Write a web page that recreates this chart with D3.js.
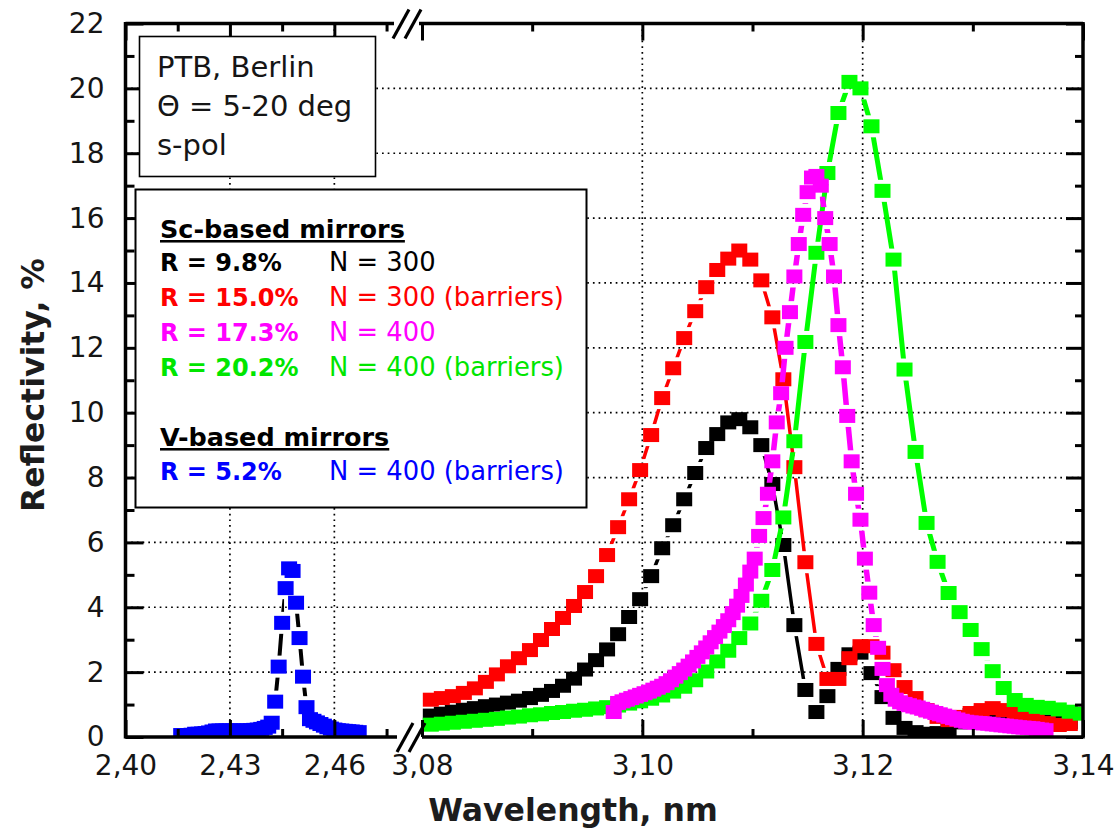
<!DOCTYPE html>
<html>
<head>
<meta charset="utf-8">
<script src="https://cdn.jsdelivr.net/npm/d3@7"></script>
<style>
  html, body { margin: 0; padding: 0; background: #ffffff; }
  svg { display: block; }
  text { font-family: "DejaVu Sans", "Open Sans", sans-serif; }
</style>
</head>
<body>
<svg id="chart" width="1120" height="829"></svg>
<script>
// ---------------------------------------------------------------
// Reflectivity spectra of multilayer mirrors (wavelength nm, R %)
// ---------------------------------------------------------------

// Sc-based, N = 300
const scN300 = [
  [3.0808,0.66],[3.0818,0.72],[3.0828,0.78],[3.0838,0.84],[3.0848,0.89],[3.0858,0.95],
  [3.0868,1.00],[3.0878,1.06],[3.0888,1.12],[3.0898,1.20],[3.0908,1.30],[3.0918,1.42],
  [3.0928,1.58],[3.0938,1.80],[3.0948,2.08],[3.0958,2.37],[3.0968,2.70],[3.0978,3.17],
  [3.0988,3.70],[3.0998,4.25],[3.1008,4.96],[3.1018,5.82],[3.1028,6.53],[3.1038,7.33],
  [3.1048,8.14],[3.1058,8.91],[3.1068,9.34],[3.1078,9.70],[3.1088,9.80],[3.1098,9.55],
  [3.1108,9.00],[3.1118,7.80],[3.1128,5.92],[3.1138,3.45],[3.1148,1.45],[3.1158,0.77],
  [3.1168,1.26],[3.1178,2.10],[3.1188,2.55],[3.1198,2.60],[3.1208,1.97],[3.1218,1.23],
  [3.1228,0.59],[3.1238,0.28],[3.1248,0.15],[3.1258,0.10],[3.1268,0.12],[3.1278,0.20],
  [3.1288,0.45],[3.1298,0.68],[3.1308,0.75],[3.1318,0.72],[3.1328,0.62],[3.1338,0.55],
  [3.1348,0.45],[3.1358,0.42],[3.1368,0.48],[3.1378,0.52],[3.1388,0.45]
];

// Sc-based, N = 300 with barrier layers
const scN300Barriers = [
  [3.0808,1.15],[3.0818,1.20],[3.0828,1.26],[3.0838,1.36],[3.0848,1.50],[3.0858,1.70],
  [3.0868,1.93],[3.0878,2.18],[3.0888,2.43],[3.0898,2.68],[3.0908,2.99],[3.0918,3.33],
  [3.0928,3.67],[3.0938,4.04],[3.0948,4.47],[3.0958,4.96],[3.0968,5.61],[3.0978,6.47],
  [3.0988,7.33],[3.0998,8.23],[3.1008,9.31],[3.1018,10.45],[3.1028,11.37],[3.1038,12.30],
  [3.1048,13.13],[3.1058,13.87],[3.1068,14.40],[3.1078,14.75],[3.1088,15.00],[3.1098,14.72],
  [3.1108,14.08],[3.1118,12.94],[3.1128,11.03],[3.1138,8.32],[3.1148,5.39],[3.1158,2.87],
  [3.1168,1.79],[3.1178,1.79],[3.1188,2.43],[3.1198,2.80],[3.1208,2.80],[3.1218,2.60],
  [3.1228,2.06],[3.1238,1.54],[3.1248,1.20],[3.1258,0.83],[3.1268,0.62],[3.1278,0.52],
  [3.1288,0.62],[3.1298,0.74],[3.1308,0.83],[3.1318,0.89],[3.1328,0.83],[3.1338,0.71],
  [3.1348,0.62],[3.1358,0.52],[3.1368,0.43],[3.1378,0.37],[3.1388,0.40]
];

// Sc-based, N = 400
const scN400 = [
  [3.0974,0.77],[3.0978,1.05],[3.0982,1.10],[3.0986,1.15],[3.0990,1.20],[3.0994,1.25],
  [3.0998,1.30],[3.1002,1.35],[3.1006,1.40],[3.1010,1.46],[3.1014,1.52],[3.1018,1.58],
  [3.1022,1.66],[3.1026,1.75],[3.1030,1.86],[3.1034,1.97],[3.1038,2.08],[3.1042,2.20],
  [3.1046,2.33],[3.1050,2.47],[3.1054,2.61],[3.1058,2.76],[3.1062,2.92],[3.1066,3.08],
  [3.1070,3.25],[3.1074,3.42],[3.1078,3.60],[3.1082,3.82],[3.1086,4.05],[3.1090,4.35],
  [3.1094,4.70],[3.1098,5.10],[3.1102,5.50],[3.1106,6.20],[3.1110,6.75],[3.1114,7.50],
  [3.1118,8.50],[3.1122,9.70],[3.1126,10.60],[3.1130,12.00],[3.1134,13.10],[3.1138,14.20],
  [3.1142,15.20],[3.1146,16.10],[3.1150,16.80],[3.1154,17.25],[3.1158,17.30],[3.1162,17.00],
  [3.1166,16.00],[3.1170,15.20],[3.1174,14.20],[3.1178,12.70],[3.1182,11.40],[3.1186,9.90],
  [3.1190,8.50],[3.1194,7.50],[3.1198,6.70],[3.1202,5.50],[3.1206,4.45],[3.1210,3.45],
  [3.1214,2.75],[3.1218,2.10],[3.1222,1.60],[3.1226,1.30],[3.1230,1.15],[3.1234,1.07],
  [3.1238,1.02],[3.1242,0.98],[3.1246,0.94],[3.1250,0.91],[3.1254,0.87],[3.1258,0.82],
  [3.1262,0.78],[3.1266,0.74],[3.1270,0.70],[3.1274,0.66],[3.1278,0.62],[3.1282,0.58],
  [3.1286,0.54],[3.1290,0.50],[3.1294,0.47],[3.1298,0.45],[3.1302,0.44],[3.1306,0.43],
  [3.1310,0.42],[3.1314,0.41],[3.1318,0.39],[3.1322,0.38],[3.1326,0.36],[3.1330,0.35],
  [3.1334,0.33],[3.1338,0.32],[3.1342,0.30],[3.1346,0.29],[3.1350,0.28],[3.1354,0.27],
  [3.1358,0.25],[3.1362,0.23],[3.1366,0.21]
];

// Sc-based, N = 400 with barrier layers
const scN400Barriers = [
  [3.0808,0.38],[3.0818,0.41],[3.0828,0.44],[3.0838,0.47],[3.0848,0.50],[3.0858,0.53],
  [3.0868,0.56],[3.0878,0.60],[3.0888,0.63],[3.0898,0.67],[3.0908,0.70],[3.0918,0.74],
  [3.0928,0.77],[3.0938,0.81],[3.0948,0.84],[3.0958,0.88],[3.0968,0.92],[3.0978,0.97],
  [3.0988,1.03],[3.0998,1.10],[3.1008,1.18],[3.1018,1.28],[3.1028,1.40],[3.1038,1.55],
  [3.1048,1.75],[3.1058,2.02],[3.1068,2.33],[3.1078,2.66],[3.1088,3.05],[3.1098,3.50],
  [3.1108,4.20],[3.1118,5.15],[3.1128,6.77],[3.1138,9.12],[3.1148,12.18],[3.1158,14.93],
  [3.1168,17.39],[3.1178,19.24],[3.1188,20.20],[3.1198,20.00],[3.1208,18.83],[3.1218,16.84],
  [3.1228,14.72],[3.1238,11.33],[3.1248,8.79],[3.1258,6.60],[3.1268,5.40],[3.1278,4.44],
  [3.1288,3.85],[3.1298,3.30],[3.1308,2.71],[3.1318,2.03],[3.1328,1.51],[3.1338,1.14],
  [3.1348,0.99],[3.1358,0.93],[3.1368,0.90],[3.1378,0.85],[3.1388,0.78],[3.1398,0.72]
];

// V-based, N = 400 with barrier layers
const vN400Barriers = [
  [2.416,0.06],[2.417,0.06],[2.418,0.06],[2.419,0.07],[2.420,0.10],[2.421,0.10],
  [2.422,0.11],[2.423,0.12],[2.424,0.14],[2.425,0.17],[2.426,0.20],[2.427,0.20],
  [2.428,0.20],[2.429,0.20],[2.430,0.20],[2.431,0.20],[2.432,0.20],[2.433,0.20],
  [2.434,0.20],[2.435,0.20],[2.436,0.21],[2.437,0.22],[2.438,0.23],[2.439,0.25],
  [2.440,0.28],[2.441,0.32],[2.442,0.44],[2.443,1.09],[2.444,2.17],[2.445,3.52],
  [2.446,4.59],[2.447,5.20],[2.448,5.12],[2.449,4.14],[2.450,3.05],[2.451,1.86],
  [2.452,0.92],[2.453,0.55],[2.454,0.50],[2.455,0.45],[2.456,0.40],[2.457,0.35],
  [2.458,0.30],[2.459,0.26],[2.460,0.23],[2.461,0.21],[2.462,0.20],[2.463,0.19],
  [2.464,0.18],[2.465,0.17],[2.466,0.16],[2.467,0.15]
];

// Axis ticks
const xTicksLeft = [2.40, 2.43, 2.46];
const xMinorLeft = [2.415, 2.445, 2.475];
const xTicksRight = [3.08, 3.10, 3.12, 3.14];
const xMinorRight = [3.09, 3.11, 3.13];
const yTicks = [0, 2, 4, 6, 8, 10, 12, 14, 16, 18, 20, 22];
const yMinor = [1, 3, 5, 7, 9, 11, 13, 15, 17, 19, 21];
const yGrid = [2, 4, 6, 8, 10, 12, 14, 16, 18, 20];
const xGridLeft = [2.43, 2.46];
const xGridRight = [3.10, 3.12];

// Text
const infoLines = ["PTB, Berlin", "\u0398 = 5-20 deg", "s-pol"];
const scHeader = "Sc-based mirrors";
const vHeader = "V-based mirrors";
const scNotes = ["N = 300", "N = 300 (barriers)", "N = 400", "N = 400 (barriers)"];
const vNotes = ["N = 400 (barriers)"];
const xTitle = "Wavelength, nm";
const yTitle = "Reflectivity, %";

// ---------------------------------------------------------------
const W = 1120, H = 829;
const plotLeft = 125.5, plotRight = 1083, plotTop = 23.5, plotBottom = 737;
const breakL = 397, breakR = 422;
const FONT = "'DejaVu Sans', 'Open Sans', sans-serif";

const svg = d3.select("#chart");
const defs = svg.append("defs");

const xL = d3.scaleLinear().domain([2.40, 2.478]).range([plotLeft, breakL]);
const xR = d3.scaleLinear().domain([3.08, 3.14]).range([breakR, plotRight]);
const y = d3.scaleLinear().domain([0, 22]).range([plotBottom, plotTop]);

const comma = d3.formatLocale({decimal: ",", thousands: ".", grouping: [3], currency: ["", ""]});
const fmtX = comma.format(".2f");
const fmtR = d3.format(".1f");

svg.append("rect").attr("width", W).attr("height", H).attr("fill", "#ffffff");

// ---- dotted grid ----
const grid = svg.append("g")
  .attr("stroke", "#000").attr("stroke-width", 1.7).attr("stroke-dasharray", "1.7,4");
grid.selectAll("line.h").data(yGrid).join("line")
  .attr("x1", plotLeft).attr("x2", plotRight)
  .attr("y1", d => y(d)).attr("y2", d => y(d));
grid.selectAll("line.vl").data(xGridLeft).join("line")
  .attr("x1", d => xL(d)).attr("x2", d => xL(d))
  .attr("y1", plotTop).attr("y2", plotBottom);
grid.selectAll("line.vr").data(xGridRight).join("line")
  .attr("x1", d => xR(d)).attr("x2", d => xR(d))
  .attr("y1", plotTop).attr("y2", plotBottom);

// ---- data ----
defs.append("clipPath").attr("id", "plot-clip")
  .append("rect").attr("x", plotLeft).attr("y", plotTop)
  .attr("width", plotRight - plotLeft).attr("height", plotBottom - plotTop);

const MW = 16, MH = 14, GAP = 4;
const dataLayer = svg.append("g").attr("clip-path", "url(#plot-clip)");

function drawSeries(id, data, xs, color, lineColor, lineWidth) {
  // the connecting line is broken around each symbol
  const mask = defs.append("mask").attr("id", "gap-" + id)
    .attr("maskUnits", "userSpaceOnUse")
    .attr("x", 0).attr("y", 0).attr("width", W).attr("height", H);
  mask.append("rect").attr("width", W).attr("height", H).attr("fill", "#fff");
  mask.selectAll("rect.hole").data(data).join("rect")
    .attr("x", d => xs(d[0]) - MW / 2 - GAP)
    .attr("y", d => y(d[1]) - MH / 2 - GAP)
    .attr("width", MW + 2 * GAP).attr("height", MH + 2 * GAP)
    .attr("fill", "#000");

  const g = dataLayer.append("g");
  g.append("path").datum(data)
    .attr("d", d3.line().x(d => xs(d[0])).y(d => y(d[1])))
    .attr("fill", "none").attr("stroke", lineColor)
    .attr("stroke-width", lineWidth).attr("stroke-linejoin", "round")
    .attr("mask", "url(#gap-" + id + ")");
  g.selectAll("rect.pt").data(data).join("rect")
    .attr("x", d => xs(d[0]) - MW / 2)
    .attr("y", d => y(d[1]) - MH / 2)
    .attr("width", MW).attr("height", MH)
    .attr("fill", color);
}

const colBlack = "#000000", colRed = "#ff0000", colMag = "#ff00ff", colGreen = "#00ff00", colBlue = "#0000ff";

drawSeries("sc300", scN300, xR, colBlack, colBlack, 3.5);
drawSeries("sc300b", scN300Barriers, xR, colRed, colRed, 3.5);
drawSeries("sc400b", scN400Barriers, xR, colGreen, colGreen, 5);
drawSeries("sc400", scN400, xR, colMag, colMag, 5.5);
drawSeries("v400b", vN400Barriers, xL, colBlue, colBlack, 4);

// ---- axes ----
const axes = svg.append("g");

function styleAxis(sel, w) {
  sel.select(".domain").remove();
  sel.selectAll(".tick line").attr("stroke", "#000").attr("stroke-width", w);
  sel.selectAll(".tick text")
    .attr("font-size", 28).attr("fill", "#151515")
    .attr("font-family", FONT);
}

// bottom
axes.append("g").attr("transform", `translate(0,${plotBottom})`)
  .call(d3.axisBottom(xL).tickValues(xTicksLeft).tickFormat(fmtX).tickSize(-17).tickPadding(18))
  .call(s => styleAxis(s, 3));
axes.append("g").attr("transform", `translate(0,${plotBottom})`)
  .call(d3.axisBottom(xL).tickValues(xMinorLeft).tickFormat("").tickSize(-8))
  .call(s => styleAxis(s, 3));
axes.append("g").attr("transform", `translate(0,${plotBottom})`)
  .call(d3.axisBottom(xR).tickValues(xTicksRight).tickFormat(fmtX).tickSize(-17).tickPadding(18))
  .call(s => styleAxis(s, 3));
axes.append("g").attr("transform", `translate(0,${plotBottom})`)
  .call(d3.axisBottom(xR).tickValues(xMinorRight).tickFormat("").tickSize(-8))
  .call(s => styleAxis(s, 3));
// top
axes.append("g").attr("transform", `translate(0,${plotTop})`)
  .call(d3.axisTop(xL).tickValues(xTicksLeft).tickFormat("").tickSize(-17))
  .call(s => styleAxis(s, 3));
axes.append("g").attr("transform", `translate(0,${plotTop})`)
  .call(d3.axisTop(xL).tickValues(xMinorLeft).tickFormat("").tickSize(-8))
  .call(s => styleAxis(s, 3));
axes.append("g").attr("transform", `translate(0,${plotTop})`)
  .call(d3.axisTop(xR).tickValues(xTicksRight).tickFormat("").tickSize(-17))
  .call(s => styleAxis(s, 3));
axes.append("g").attr("transform", `translate(0,${plotTop})`)
  .call(d3.axisTop(xR).tickValues(xMinorRight).tickFormat("").tickSize(-8))
  .call(s => styleAxis(s, 3));
// left
axes.append("g").attr("transform", `translate(${plotLeft},0)`)
  .call(d3.axisLeft(y).tickValues(yTicks).tickFormat(d3.format("d")).tickSize(-18).tickPadding(21))
  .call(s => styleAxis(s, 3));
axes.append("g").attr("transform", `translate(${plotLeft},0)`)
  .call(d3.axisLeft(y).tickValues(yMinor).tickFormat("").tickSize(-9))
  .call(s => styleAxis(s, 3));
// right
axes.append("g").attr("transform", `translate(${plotRight},0)`)
  .call(d3.axisRight(y).tickValues(yTicks).tickFormat("").tickSize(-17))
  .call(s => styleAxis(s, 3));
axes.append("g").attr("transform", `translate(${plotRight},0)`)
  .call(d3.axisRight(y).tickValues(yMinor).tickFormat("").tickSize(-8))
  .call(s => styleAxis(s, 3));

// frame with axis break
const frame = axes.append("g").attr("stroke", "#000").attr("stroke-width", 3.5).attr("fill", "none");
frame.append("line").attr("x1", plotLeft).attr("x2", plotLeft).attr("y1", plotTop - 1.5).attr("y2", plotBottom + 1.5);
frame.append("line").attr("x1", plotRight).attr("x2", plotRight).attr("y1", plotTop - 1.5).attr("y2", plotBottom + 1.5);
frame.append("line").attr("x1", plotLeft).attr("x2", breakL).attr("y1", plotBottom).attr("y2", plotBottom);
frame.append("line").attr("x1", breakR).attr("x2", plotRight).attr("y1", plotBottom).attr("y2", plotBottom);
frame.append("line").attr("x1", plotLeft).attr("x2", breakL - 3).attr("y1", plotTop).attr("y2", plotTop);
frame.append("line").attr("x1", breakR - 3).attr("x2", plotRight).attr("y1", plotTop).attr("y2", plotTop);
// break marks
const slash = axes.append("g").attr("stroke", "#000").attr("stroke-width", 3.2);
[[plotBottom, 0], [plotTop, -4]].forEach(([yy, dx]) => {
  slash.append("line").attr("x1", breakL + dx).attr("y1", yy + 15).attr("x2", breakL + dx + 16).attr("y2", yy - 14);
  slash.append("line").attr("x1", breakL + dx + 12).attr("y1", yy + 15).attr("x2", breakL + dx + 28).attr("y2", yy - 14);
});

// axis titles
svg.append("text").attr("x", 573).attr("y", 821).attr("text-anchor", "middle")
  .attr("font-family", FONT).attr("font-size", 31.5).attr("font-weight", 700)
  .attr("fill", "#1c1c1c").text(xTitle);
svg.append("text").attr("transform", "translate(44,385) rotate(-90)").attr("text-anchor", "middle")
  .attr("font-family", FONT).attr("font-size", 31.5).attr("font-weight", 700)
  .attr("fill", "#1c1c1c").text(yTitle);

// ---- info box ----
const info = svg.append("g");
info.append("rect").attr("x", 139.5).attr("y", 36.5).attr("width", 236).attr("height", 140)
  .attr("fill", "#fff").attr("stroke", "#000").attr("stroke-width", 1.6);
info.selectAll("text").data(infoLines).join("text")
  .attr("x", 157).attr("y", (d, i) => 77 + i * 39)
  .attr("font-family", FONT).attr("font-size", 29).attr("fill", "#151515").text(d => d);

// ---- legend box ----
const legend = svg.append("g");
legend.append("rect").attr("x", 135.5).attr("y", 189.5).attr("width", 451).attr("height", 318)
  .attr("fill", "#fff").attr("stroke", "#000").attr("stroke-width", 2);

const scRows = [
  {data: scN300, color: "#000000", note: scNotes[0]},
  {data: scN300Barriers, color: "#ff0000", note: scNotes[1]},
  {data: scN400, color: "#ff00ff", note: scNotes[2]},
  {data: scN400Barriers, color: "#00e600", note: scNotes[3]}
];
const vRows = [
  {data: vN400Barriers, color: "#0000ff", note: vNotes[0]}
];

function header(txt, yy) {
  legend.append("text").attr("x", 160).attr("y", yy)
    .attr("font-family", FONT).attr("font-size", 25.5).attr("font-weight", 700).attr("fill", "#000")
    .attr("text-decoration", "underline").text(txt);
}
function rows(list, y0) {
  list.forEach((r, i) => {
    const yy = y0 + i * 35;
    legend.append("text").attr("x", 160).attr("y", yy)
      .attr("font-family", FONT).attr("font-size", 24).attr("font-weight", 700).attr("fill", r.color)
      .text(`R = ${fmtR(d3.max(r.data, d => d[1]))}%`);
    legend.append("text").attr("x", 329).attr("y", yy)
      .attr("font-family", FONT).attr("font-size", 25.8).attr("fill", r.color).text(r.note);
  });
}
header(scHeader, 238);
rows(scRows, 271);
header(vHeader, 446);
rows(vRows, 480);
</script>
</body>
</html>
